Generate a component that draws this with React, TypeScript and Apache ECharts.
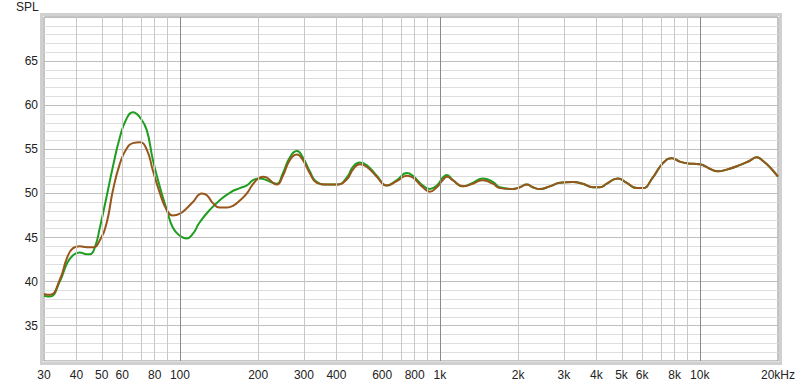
import React, { useEffect, useRef } from 'react';
import * as echarts from 'echarts';

const FREQ_LABELS = [30, 40, 50, 60, 80, 100, 200, 300, 400, 600, 800, 1000, 2000, 3000, 4000, 5000, 6000, 8000, 10000, 20000];
const GRID_MINOR = [40, 50, 60, 70, 80, 90, 200, 300, 400, 500, 600, 700, 800, 900, 2000, 3000, 4000, 5000, 6000, 7000, 8000, 9000];
const GRID_MAJOR = [100, 1000, 10000];

const greenFreq = [30, 31.6, 34.6, 36.7, 38.8, 41.2, 43.8, 45.1, 47.1, 49.2, 52.2, 55.2, 58.8, 62.4, 66, 70.2, 74.5, 78.7, 83.8, 89.1, 94, 100, 106, 112, 119, 130, 142, 156, 170, 181, 191, 203, 216, 228, 236, 249, 265, 282, 297, 316, 336, 368, 402, 439, 463, 492, 524, 572, 625, 683, 747, 787, 860, 915, 974, 1027, 1064, 1122, 1226, 1339, 1463, 1599, 1701, 1909, 2031, 2161, 2279, 2425, 2649, 2894, 3247, 3548, 3877, 4125, 4389, 4837, 5239, 5724, 6036, 6595, 7205, 7803, 8377, 8990, 10000, 10930, 11730, 12700, 14250, 15570, 16570, 17470, 18580, 20000];
const greenSpl = [38.4, 38.3, 40.1, 42.0, 43.0, 43.3, 43.1, 43.1, 43.9, 46.1, 49.6, 53.0, 56.4, 58.5, 59.2, 58.6, 57.2, 53.8, 50.7, 48.1, 46.1, 45.2, 44.9, 45.4, 46.7, 48.1, 49.2, 50.1, 50.6, 50.9, 51.5, 51.7, 51.5, 51.2, 51.1, 52.3, 54.1, 54.8, 54.1, 52.5, 51.3, 51.0, 51.0, 51.8, 53.0, 53.5, 53.2, 52.0, 50.9, 51.5, 52.3, 52.0, 50.9, 50.5, 50.9, 51.8, 52.1, 51.5, 50.8, 51.2, 51.7, 51.3, 50.7, 50.5, 50.7, 51.0, 50.7, 50.5, 50.8, 51.2, 51.3, 51.1, 50.7, 50.7, 51.1, 51.7, 51.2, 50.6, 50.6, 51.8, 53.4, 54.0, 53.6, 53.4, 53.3, 52.8, 52.5, 52.7, 53.2, 53.7, 54.1, 53.7, 53.0, 51.9];

const brownFreq = [30, 31.6, 34.6, 36.7, 38.8, 41.2, 43.8, 46.4, 49.2, 52.2, 55.2, 58.8, 62.4, 66, 70.2, 74.5, 78.7, 83.8, 89.1, 94, 100, 106, 112, 121.5, 127, 134, 142, 152, 160, 170, 181, 194, 209, 216, 228, 236, 249, 265, 282, 297, 316, 336, 368, 402, 439, 463, 492, 524, 572, 625, 683, 747, 787, 860, 915, 974, 1027, 1064, 1122, 1226, 1339, 1463, 1599, 1701, 1909, 2031, 2161, 2279, 2425, 2649, 2894, 3247, 3548, 3877, 4125, 4389, 4837, 5239, 5724, 6036, 6595, 7205, 7803, 8377, 8990, 10000, 10930, 11730, 12700, 14250, 15570, 16570, 17470, 18580, 20000];
const brownSpl = [38.6, 38.5, 40.3, 42.6, 43.8, 44.0, 43.9, 43.9, 44.7, 46.6, 50.3, 53.4, 55.1, 55.7, 55.8, 55.0, 52.6, 50.0, 48.1, 47.5, 47.7, 48.3, 49.0, 50.0, 49.8, 48.9, 48.4, 48.4, 48.6, 49.2, 50.0, 51.3, 51.9, 51.8, 51.2, 51.0, 52.0, 53.8, 54.4, 53.8, 52.3, 51.2, 51.0, 51.0, 51.6, 52.7, 53.3, 53.0, 51.9, 50.9, 51.4, 52.0, 51.8, 50.7, 50.2, 50.7, 51.5, 51.9, 51.5, 50.8, 51.1, 51.5, 51.1, 50.6, 50.5, 50.7, 51.0, 50.7, 50.5, 50.8, 51.2, 51.3, 51.1, 50.7, 50.7, 51.1, 51.7, 51.2, 50.6, 50.6, 51.8, 53.4, 54.0, 53.6, 53.4, 53.3, 52.8, 52.5, 52.7, 53.2, 53.7, 54.1, 53.7, 53.0, 51.9];

const FONT = '"Liberation Sans", Arial, sans-serif';

function freqLabel(f: number): string {
  if (f === 20000) return '20kHz';
  if (f >= 1000) return f / 1000 + 'k';
  return String(f);
}

export default function App() {
  const ref = useRef<HTMLDivElement>(null);
  useEffect(() => {
    const chart = echarts.init(ref.current!, null, { renderer: 'svg' });
    const toPairs = (fs: number[], vs: number[]) => fs.map((f, i) => [Math.log10(f), vs[i]]);
    const option: any = {
      animation: false,
      backgroundColor: '#fff',
      textStyle: { fontFamily: FONT },
      grid: {
        left: 44, top: 17, right: 22, bottom: 26,
        show: true, backgroundColor: '#fff', borderColor: '#8a8a8a', borderWidth: 1,
      },
      xAxis: {
        type: 'value',
        min: Math.log10(30),
        max: Math.log10(20000),
        axisLine: { show: false },
        axisTick: { show: false },
        splitLine: { show: false },
        axisLabel: {
          customValues: FREQ_LABELS.map((f) => Math.log10(f)),
          formatter: (v: number) => {
            const f = FREQ_LABELS.find((x) => Math.abs(Math.log10(x) - v) < 1e-6);
            return f === undefined ? '' : freqLabel(f);
          },
          color: '#222',
          fontSize: 12,
          fontFamily: FONT,
          margin: 8,
          showMinLabel: true,
          showMaxLabel: true,
        },
      },
      yAxis: {
        type: 'value',
        min: 31,
        max: 70,
        interval: 1,
        axisLine: { show: false },
        axisTick: { show: false },
        splitLine: {
          show: true,
          lineStyle: { color: ['#dedede', '#dedede', '#dedede', '#dedede', '#bdbdbd'], width: 1 },
        },
        axisLabel: {
          formatter: (v: number) => (v % 5 === 0 && v < 70 && v > 31 ? String(v) : ''),
          color: '#222',
          fontSize: 12,
          fontFamily: FONT,
          margin: 6,
        },
      },
      graphic: [
        { type: 'text', left: 16, top: 1, style: { text: 'SPL', fontSize: 12, fill: '#222', fontFamily: FONT } },
        {
          type: 'rect', z: -1,
          shape: { x: 41.5, y: 14.5, width: 739, height: 349 },
          style: { fill: 'none', stroke: '#d0d0d0', lineWidth: 3 },
        },
      ],
      series: [
        {
          type: 'line', data: [], z: 1, silent: true,
          markLine: {
            silent: true,
            symbol: ['none', 'none'],
            label: { show: false },
            emphasis: { disabled: true },
            data: [
              ...GRID_MINOR.map((f) => ({ xAxis: Math.log10(f), lineStyle: { color: '#c8c8c8', width: 1, type: 'solid' } })),
              ...GRID_MAJOR.map((f) => ({ xAxis: Math.log10(f), lineStyle: { color: '#8a8a8a', width: 1, type: 'solid' } })),
            ],
          },
        },
        {
          name: 'green', type: 'line', z: 3, smooth: true, symbol: 'none',
          lineStyle: { color: '#1e9e1e', width: 2 },
          data: toPairs(greenFreq, greenSpl),
        },
        {
          name: 'brown', type: 'line', z: 4, smooth: true, symbol: 'none',
          lineStyle: { color: '#98561c', width: 2 },
          data: toPairs(brownFreq, brownSpl),
        },
      ],
    };
    chart.setOption(option);
    return () => chart.dispose();
  }, []);
  return <div ref={ref} style={{ position: 'fixed', left: 0, top: 0, width: 800, height: 387 }} />;
}
